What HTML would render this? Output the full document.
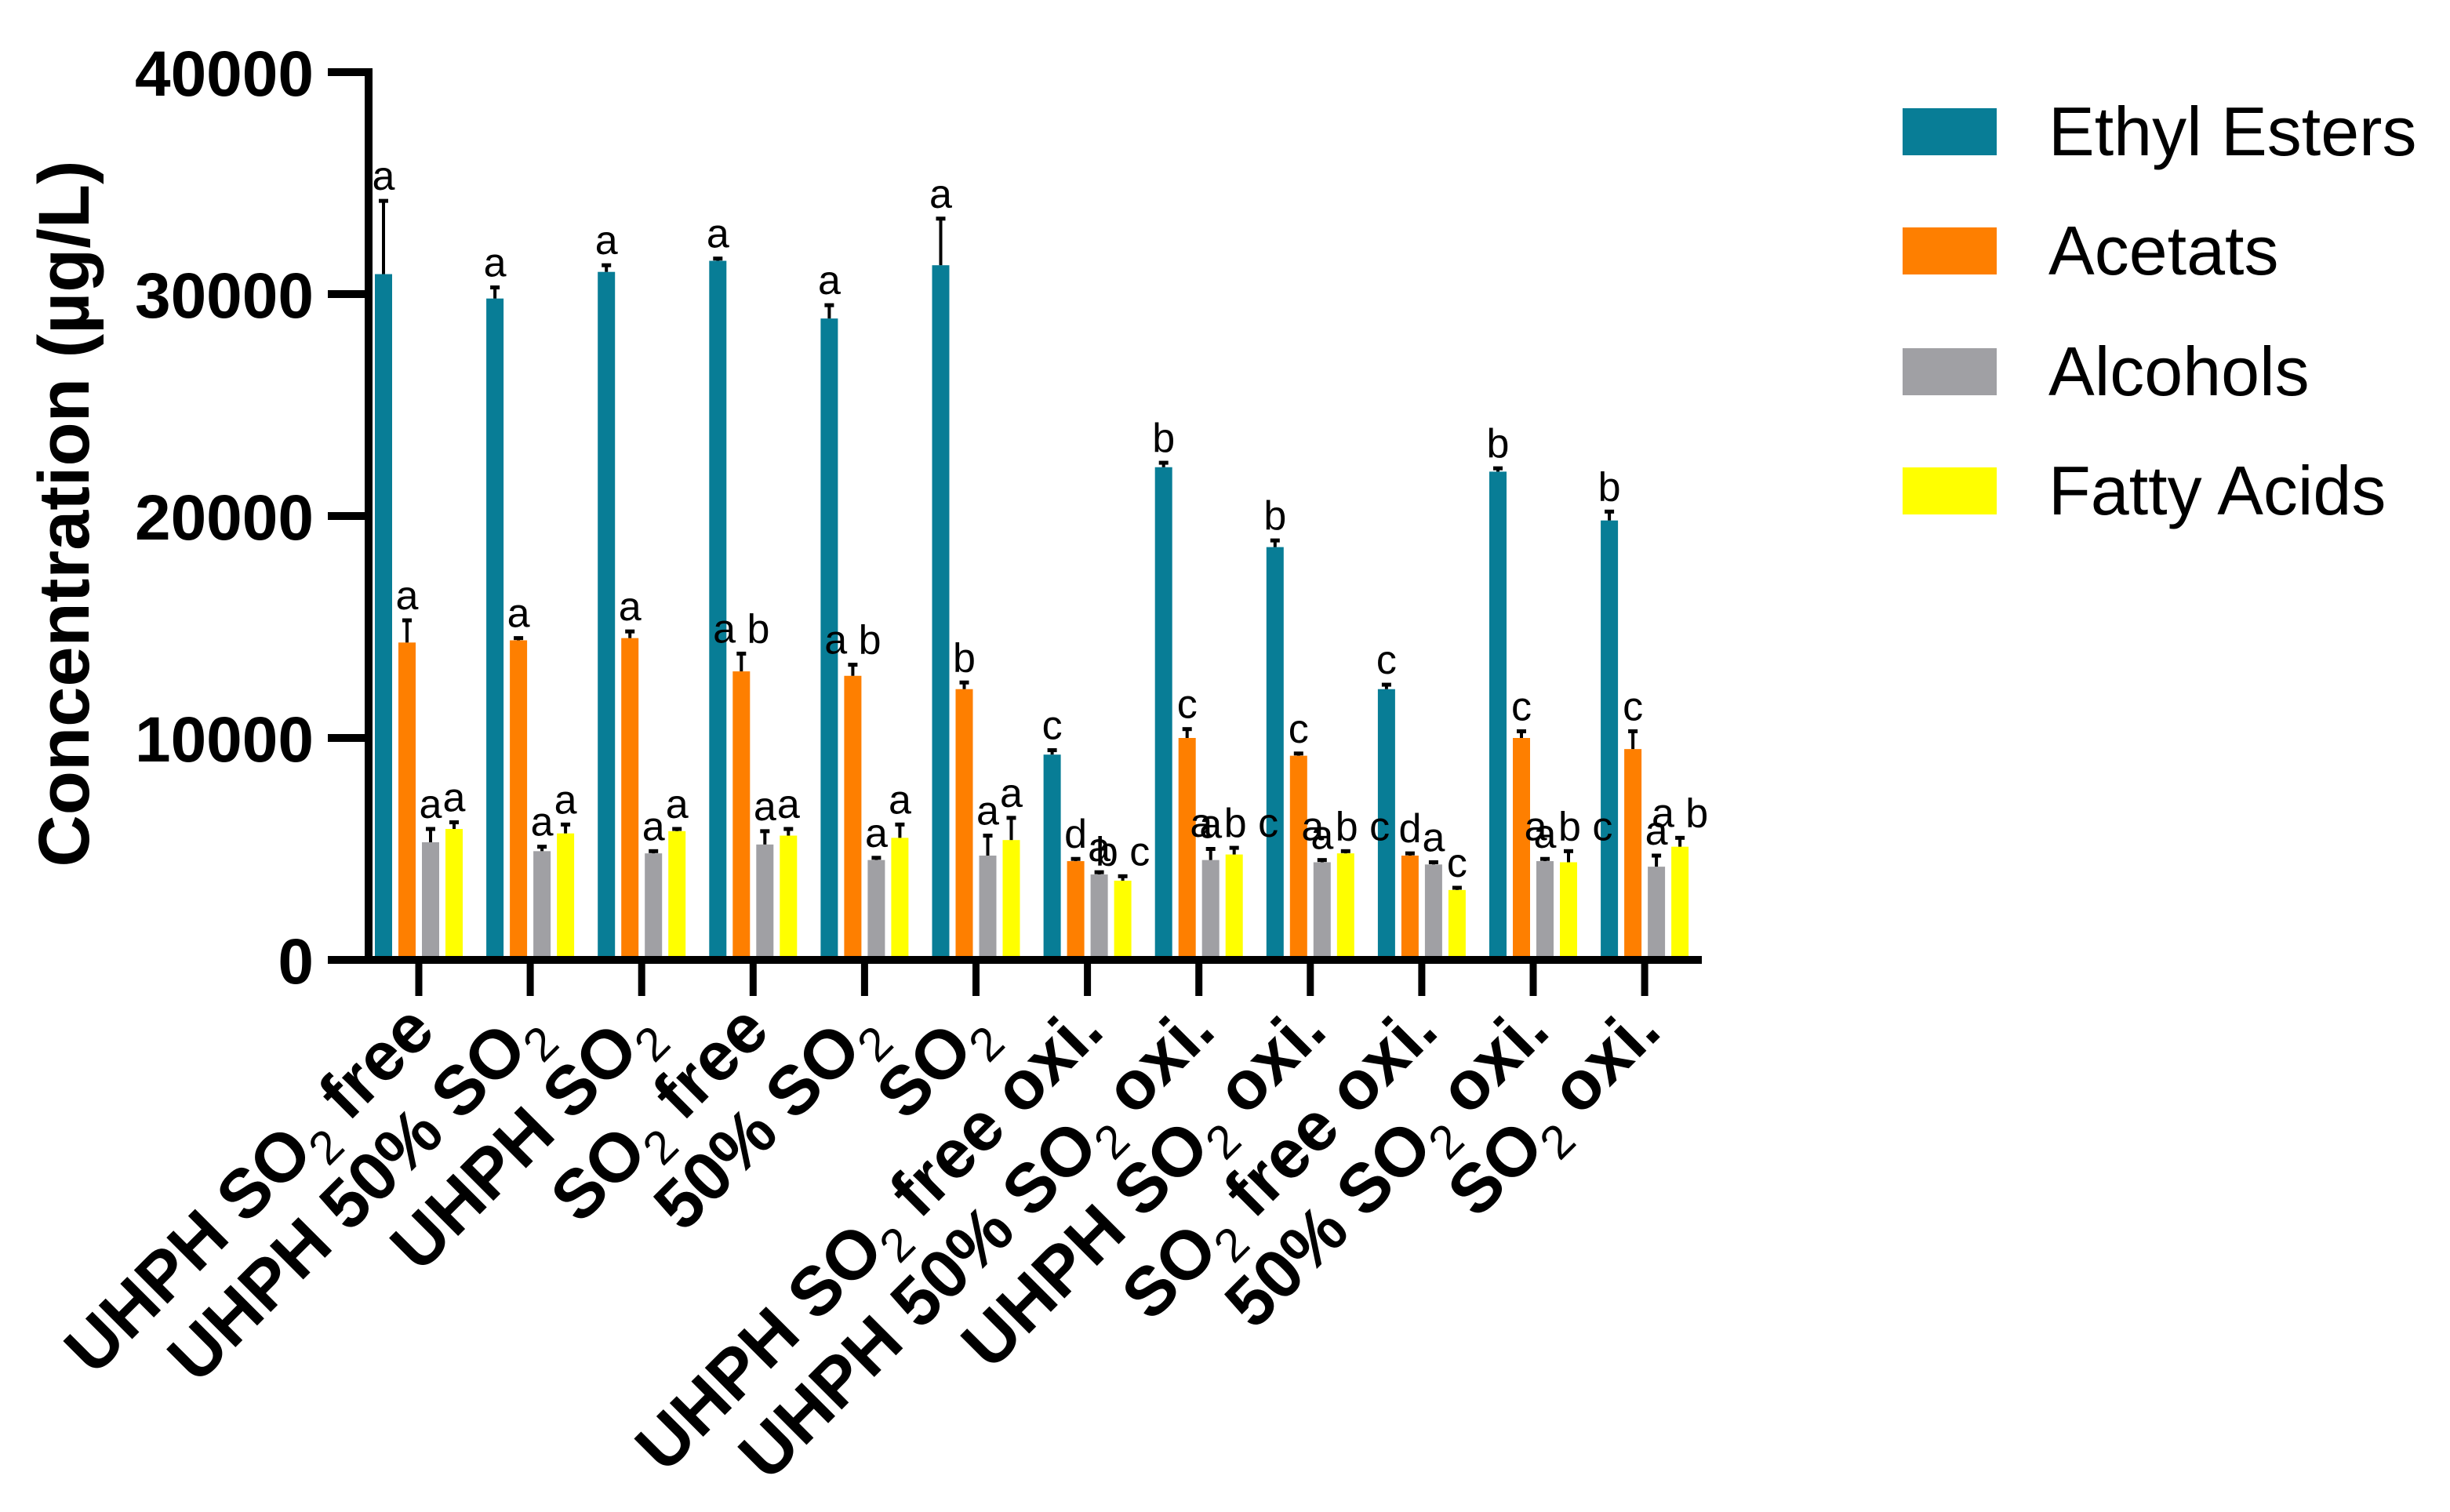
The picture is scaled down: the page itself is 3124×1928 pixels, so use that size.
<!DOCTYPE html>
<html><head><meta charset="utf-8"><style>
html,body{margin:0;padding:0;background:#fff;}
svg{display:block;}
text{font-family:"Liberation Sans",Arial,sans-serif;}
</style></head><body>
<svg id="chart" width="3124" height="1928" viewBox="0 0 3124 1928" xmlns="http://www.w3.org/2000/svg">
<g id="bars"></g>
<g id="errs"></g>
<g id="sig"></g>
<g id="axes"></g>
<g id="xl"></g>
<text transform="translate(113,655) rotate(-90)" text-anchor="middle" font-weight="bold" font-size="92">Concentration (µg/L)</text>
<g>
  <g><rect x="2426" y="138" width="120" height="60" fill="#087d96"/><text x="2612" y="198" font-size="88">Ethyl Esters</text></g>
  <g><rect x="2426" y="290" width="120" height="60" fill="#fe7f00"/><text x="2612" y="350" font-size="88">Acetats</text></g>
  <g><rect x="2426" y="444" width="120" height="60" fill="#a0a0a4"/><text x="2612" y="504" font-size="88">Alcohols</text></g>
  <g><rect x="2426" y="596" width="120" height="60" fill="#ffff00"/><text x="2612" y="656" font-size="88">Fatty Acids</text></g>
</g>
</svg>
<script>
const categories = [["UHPH SO","2"," free"],["UHPH 50% SO","2",""],["UHPH SO","2",""],["SO","2"," free"],["50% SO","2",""],["SO","2",""],["UHPH SO","2"," free oxi."],["UHPH 50% SO","2"," oxi."],["UHPH SO","2"," oxi."],["SO","2"," free oxi."],["50% SO","2"," oxi."],["SO","2"," oxi."]];
const seriesNames = ["Ethyl Esters","Acetats","Alcohols","Fatty Acids"];
const ethyl = [30900,29800,31000,31500,28900,31300,9250,22200,18600,12200,22000,19800];
const ethylErr = [3300,500,300,100,600,2100,200,200,300,200,150,400];
const acetats = [14300,14400,14500,13000,12800,12200,4450,10000,9200,4700,10000,9500];
const acetatsErr = [1000,100,300,800,500,300,100,400,100,100,300,800];
const alcohols = [5300,4900,4800,5200,4500,4700,3850,4500,4400,4300,4450,4200];
const alcoholsErr = [600,200,100,600,100,900,100,500,100,100,100,500];
const fatty = [5900,5700,5800,5600,5500,5400,3570,4750,4800,3150,4400,5100];
const fattyErr = [300,400,100,300,600,1000,200,300,100,100,500,400];
const ethylSig = ["a","a","a","a","a","a","c","b","b","c","b","b"];
const acetatsSig = ["a","a","a","a b","a b","b","d","c","c","d","c","c"];
const alcoholsSig = ["a","a","a","a","a","a","a","a","a","a","a","a"];
const fattySig = ["a","a","a","a","a","a","b c","a b c","a b c","c","a b c","a b"];
const yTicks = [0,10000,20000,30000,40000];

const NS="http://www.w3.org/2000/svg";
const y0=1224, yTop=92, yMax=40000;
const yS=v=>y0-(v/yMax)*(y0-yTop);
const gx=i=>534+i*142.1;
const offs=[-45,-15,15,45], bw=22;
const colors=["#087d96","#fe7f00","#a0a0a4","#ffff00"];
const series=[ethyl,acetats,alcohols,fatty];
const errs=[ethylErr,acetatsErr,alcoholsErr,fattyErr];
const sigs=[ethylSig,acetatsSig,alcoholsSig,fattySig];
const keys=["ethyl","acetats","alcohols","fatty"];
function mk(t,a,p){const e=document.createElementNS(NS,t);for(const k in a)e.setAttribute(k,a[k]);p.appendChild(e);return e;}
const B=document.getElementById('bars'),E=document.getElementById('errs'),S=document.getElementById('sig'),A=document.getElementById('axes'),XL=document.getElementById('xl');
series.forEach((arr,s)=>{arr.forEach((v,i)=>{
  const cx=gx(i)+offs[s];
  const r=mk('rect',{x:cx-bw/2,y:yS(v),width:bw,height:y0-yS(v),fill:colors[s]},B);
  
  
  const top=yS(v+errs[s][i]);
  const g=mk('g',{},E);
  
  
  mk('line',{x1:cx,x2:cx,y1:yS(v),y2:top,stroke:'#000','stroke-width':4},g);
  mk('line',{x1:cx-6,x2:cx+6,y1:top,y2:top,stroke:'#000','stroke-width':5},g);
  const t=mk('text',{x:cx,y:top-14,'text-anchor':'middle','font-size':52},S);
  
  
  t.textContent=sigs[s][i];
});});
const ya=mk('line',{x1:470,x2:470,y1:yTop-5,y2:y0+5,stroke:'#000','stroke-width':10},A);


const xa=mk('line',{x1:418,x2:2170,y1:y0,y2:y0,stroke:'#000','stroke-width':10},A);


yTicks.forEach(v=>{
  const l=mk('line',{x1:418,x2:470,y1:yS(v),y2:yS(v),stroke:'#000','stroke-width':10},A);
  
  
  const t=mk('text',{x:400,y:yS(v)+30,'text-anchor':'end','font-size':82,'font-weight':'bold'},A);
  
  
  t.textContent=v;
});
categories.forEach((c,i)=>{
  const x=gx(i);
  const l=mk('line',{x1:x,x2:x,y1:y0,y2:1270,stroke:'#000','stroke-width':9},A);
  
  
  const t=mk('text',{transform:`translate(${x+24},1318) rotate(-45)`,'text-anchor':'end','font-size':88,'font-weight':'bold'},XL);
  
  
  const a=mk('tspan',{},t);a.textContent=c[0];
  const b=mk('tspan',{dy:22,'font-size':60,'font-weight':'normal'},t);b.textContent=c[1];
  const d=mk('tspan',{dy:-22},t);d.textContent=c[2];
});
</script>
</body></html>
